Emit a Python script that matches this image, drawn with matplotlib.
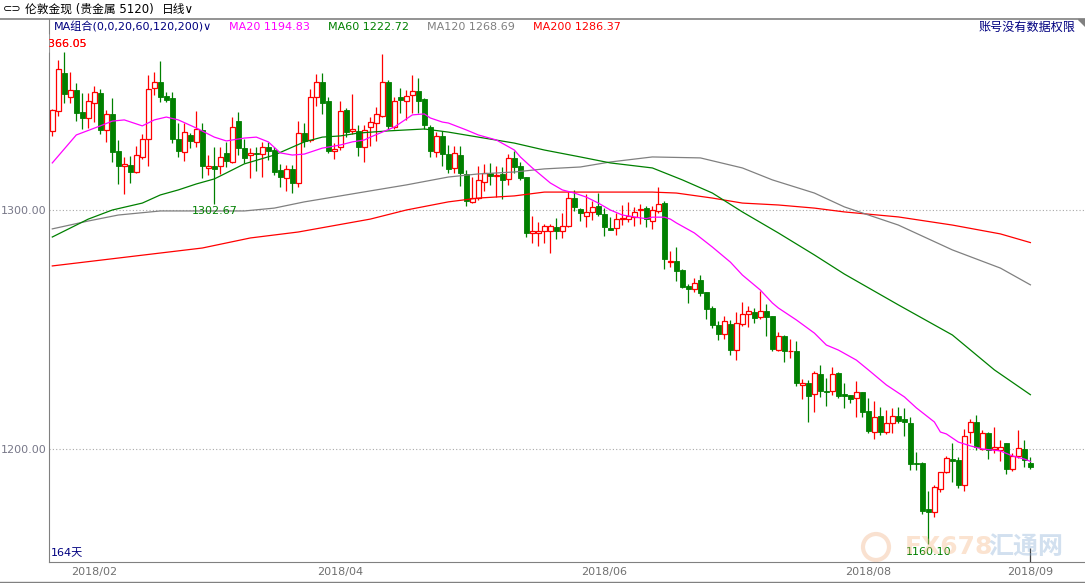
import matplotlib
matplotlib.use("Agg")
import matplotlib.pyplot as plt
from matplotlib.lines import Line2D
from matplotlib.patches import Polygon, Circle, Rectangle
from matplotlib.transforms import IdentityTransform
import numpy as np

plt.rcParams["font.family"] = ["DejaVu Sans", "Noto Sans CJK SC"]

# daily candles, 164 days
opens = [1333.1, 1341.6, 1357.3, 1347.4, 1350.2, 1341.2, 1338.6, 1344.6, 1348.8, 1333.3,
         1340.2, 1324.7, 1318.3, 1318.7, 1316.0, 1322.3, 1329.6, 1350.9, 1353.4, 1347.7,
         1346.7, 1329.6, 1324.4, 1331.3, 1328.6, 1333.5, 1317.7, 1318.4, 1318.4, 1323.7,
         1320.0, 1337.4, 1325.8, 1322.9, 1323.7, 1323.3, 1326.4, 1325.1, 1316.7, 1313.3,
         1317.2, 1311.2, 1332.1, 1329.3, 1347.4, 1353.4, 1345.6, 1324.8, 1326.2, 1341.9,
         1333.2, 1333.2, 1326.5, 1334.9, 1336.6, 1339.5, 1353.4, 1334.9, 1347.2, 1345.8,
         1348.1, 1349.8, 1346.5, 1334.9, 1324.4, 1331.1, 1323.4, 1317.4, 1323.0, 1314.9,
         1303.5, 1304.9, 1311.9, 1315.6, 1314.2, 1315.1, 1312.8, 1321.6, 1318.4, 1313.7,
         1290.2, 1290.2, 1291.1, 1291.1, 1292.8, 1291.2, 1293.4, 1304.9, 1300.4, 1297.6,
         1299.0, 1301.7, 1298.3, 1292.5, 1292.3, 1296.4, 1296.4, 1297.2, 1300.0, 1300.7,
         1295.5, 1299.7, 1303.1, 1278.1, 1278.8, 1274.9, 1268.2, 1266.8, 1270.7, 1265.5,
         1258.9, 1251.9, 1248.0, 1252.3, 1241.4, 1252.2, 1256.6, 1257.2, 1255.1, 1257.7,
         1255.6, 1241.4, 1247.3, 1240.9, 1241.0, 1226.6, 1227.7, 1222.9, 1231.4, 1224.4,
         1224.4, 1231.8, 1222.9, 1222.6, 1221.2, 1223.7, 1215.9, 1207.2, 1213.8, 1207.0,
         1210.7, 1213.9, 1212.5, 1210.7, 1194.0, 1194.0, 1174.9, 1173.5, 1183.1, 1190.2,
         1195.8, 1195.4, 1184.9, 1207.2, 1211.1, 1200.0, 1206.5, 1200.0, 1199.6, 1202.4,
         1191.6, 1197.1, 1200.0, 1194.0]
highs = [1342.3, 1362.8, 1366.05, 1357.6, 1353.3, 1348.8, 1348.8, 1351.9, 1350.5, 1341.9,
         1346.7, 1329.3, 1322.3, 1322.7, 1326.8, 1332.0, 1356.5, 1357.6, 1362.4, 1349.2,
         1349.2, 1336.3, 1336.6, 1332.1, 1341.6, 1336.3, 1323.0, 1326.2, 1326.2, 1328.6,
         1338.8, 1341.2, 1329.7, 1325.8, 1326.2, 1328.6, 1328.6, 1326.2, 1319.3, 1318.8,
         1318.8, 1337.3, 1336.3, 1350.6, 1356.8, 1357.2, 1347.4, 1327.9, 1345.6, 1342.7,
         1348.6, 1335.6, 1335.6, 1338.8, 1343.3, 1365.4, 1354.4, 1347.4, 1350.9, 1350.2,
         1356.5, 1355.1, 1346.7, 1335.6, 1332.8, 1333.1, 1327.2, 1326.9, 1326.9, 1316.7,
         1314.0, 1318.4, 1319.3, 1319.5, 1318.6, 1317.9, 1323.4, 1324.8, 1320.0, 1314.0,
         1297.5, 1295.1, 1294.1, 1294.1, 1296.5, 1298.6, 1307.7, 1308.4, 1300.8, 1306.6,
         1303.9, 1307.3, 1300.7, 1296.9, 1298.6, 1302.1, 1303.5, 1301.4, 1302.5, 1301.7,
         1301.7, 1309.8, 1303.8, 1282.8, 1284.7, 1275.2, 1269.0, 1271.4, 1272.8, 1265.8,
         1259.8, 1253.7, 1255.6, 1254.0, 1257.5, 1261.4, 1259.8, 1258.9, 1266.2, 1260.7,
         1255.6, 1248.8, 1247.7, 1246.0, 1245.2, 1229.3, 1228.9, 1232.6, 1235.1, 1229.6,
         1234.2, 1232.3, 1227.5, 1222.6, 1228.4, 1223.7, 1221.2, 1220.1, 1217.7, 1216.3,
         1217.0, 1217.7, 1217.0, 1213.5, 1198.9, 1194.4, 1182.5, 1184.9, 1190.5, 1197.0,
         1202.4, 1196.5, 1208.2, 1212.4, 1214.2, 1207.9, 1207.2, 1209.1, 1203.7, 1202.6,
         1198.2, 1207.9, 1203.7, 1196.5]
lows = [1331.1, 1339.3, 1344.6, 1344.6, 1337.4, 1333.8, 1334.2, 1337.0, 1331.8, 1328.6,
        1320.0, 1311.0, 1306.8, 1311.2, 1315.6, 1321.3, 1318.6, 1348.1, 1345.3, 1345.3,
        1327.9, 1322.0, 1320.5, 1326.0, 1326.5, 1313.3, 1314.7, 1302.67, 1314.9, 1317.9,
        1319.8, 1323.0, 1319.8, 1313.3, 1316.5, 1314.0, 1320.9, 1314.7, 1309.8, 1308.0,
        1307.3, 1309.8, 1326.5, 1328.6, 1343.7, 1340.2, 1323.7, 1321.3, 1325.1, 1330.4,
        1331.7, 1322.6, 1320.2, 1326.8, 1328.9, 1339.1, 1333.8, 1333.8, 1340.5, 1337.7,
        1340.7, 1340.7, 1333.8, 1322.0, 1322.0, 1318.4, 1315.4, 1315.4, 1310.2, 1301.7,
        1303.0, 1304.2, 1308.0, 1310.5, 1305.6, 1304.5, 1310.5, 1315.4, 1312.6, 1288.8,
        1286.1, 1285.1, 1286.1, 1282.1, 1287.7, 1288.1, 1292.8, 1299.7, 1295.5, 1293.0,
        1295.8, 1297.5, 1289.1, 1291.6, 1289.5, 1293.7, 1294.8, 1293.3, 1294.1, 1293.0,
        1292.2, 1298.6, 1275.3, 1276.0, 1270.3, 1267.5, 1261.2, 1265.8, 1264.0, 1254.5,
        1250.8, 1245.6, 1246.2, 1239.3, 1237.2, 1251.6, 1251.2, 1252.9, 1254.4, 1247.4,
        1241.1, 1241.0, 1236.5, 1238.2, 1226.4, 1220.9, 1211.4, 1215.6, 1221.9, 1218.0,
        1222.6, 1221.5, 1217.3, 1219.1, 1213.5, 1213.5, 1206.8, 1204.3, 1205.8, 1206.1,
        1206.5, 1211.0, 1205.6, 1191.2, 1191.2, 1172.8, 1160.1, 1171.7, 1182.1, 1190.1,
        1186.1, 1183.5, 1182.5, 1202.6, 1199.6, 1199.6, 1195.8, 1198.4, 1195.1, 1189.4,
        1190.9, 1196.2, 1192.6, 1191.5]
closes = [1341.9, 1358.9, 1348.7, 1350.2, 1340.7, 1338.6, 1345.6, 1349.2, 1333.5, 1340.2,
          1324.4, 1318.6, 1319.1, 1316.0, 1322.9, 1329.7, 1350.5, 1353.4, 1347.4, 1346.0,
          1329.6, 1324.8, 1332.5, 1329.0, 1333.8, 1318.6, 1318.4, 1317.3, 1322.3, 1320.7,
          1334.9, 1325.8, 1321.9, 1323.7, 1323.3, 1326.5, 1324.8, 1316.0, 1314.0, 1317.2,
          1311.2, 1332.1, 1328.9, 1347.4, 1353.7, 1344.6, 1324.8, 1325.5, 1341.6, 1332.8,
          1333.8, 1326.5, 1333.5, 1336.7, 1340.0, 1353.4, 1335.2, 1345.6, 1346.0, 1347.7,
          1349.8, 1345.6, 1335.6, 1324.8, 1331.0, 1323.4, 1317.0, 1323.7, 1315.6, 1303.9,
          1304.9, 1312.6, 1315.4, 1314.2, 1314.7, 1312.6, 1321.6, 1318.1, 1313.5, 1290.5,
          1291.1, 1291.1, 1293.2, 1293.2, 1291.4, 1293.4, 1304.9, 1301.4, 1298.9, 1299.0,
          1301.1, 1298.3, 1293.0, 1291.8, 1296.1, 1296.7, 1297.5, 1299.0, 1300.4, 1296.3,
          1299.9, 1302.4, 1279.5, 1278.5, 1274.6, 1267.9, 1266.8, 1269.3, 1265.4, 1258.7,
          1251.9, 1248.1, 1253.4, 1241.4, 1252.6, 1256.3, 1257.6, 1254.9, 1257.7, 1255.4,
          1241.8, 1247.3, 1241.0, 1241.1, 1227.5, 1227.6, 1222.3, 1231.7, 1224.4, 1223.7,
          1231.2, 1222.2, 1222.3, 1221.0, 1223.7, 1215.6, 1207.5, 1213.2, 1207.2, 1210.7,
          1213.8, 1211.8, 1211.1, 1193.6, 1193.6, 1174.2, 1173.8, 1184.2, 1190.2, 1196.1,
          1195.1, 1184.9, 1205.6, 1211.1, 1200.7, 1206.8, 1199.6, 1200.7, 1201.0, 1191.6,
          1197.2, 1200.5, 1195.4, 1192.6]

# moving averages, read at a set of day indices
ma20_idx = [0, 4, 8, 10, 12, 15, 17, 19, 21, 24, 27, 29, 32, 34, 36, 38, 40, 42, 45, 48,
            50, 52, 53, 55, 57, 59, 60, 62, 63, 65, 66, 69, 71, 74, 77, 78, 80, 82, 83, 85,
            87, 89, 91, 93, 95, 98, 99, 100, 102, 103, 104, 107, 110, 113, 115, 118, 120, 121,
            124, 127, 129, 131, 134, 136, 138, 139, 142, 144, 147, 148, 149, 151, 153, 155,
            158, 160, 162, 163]
ma20_val = [1319.7, 1331.4, 1335.2, 1337.2, 1337.7, 1335.2, 1337.7, 1338.9, 1337.7, 1334.3,
            1330.5, 1328.9, 1330.1, 1330.5, 1328.5, 1323.9, 1323.0, 1323.4, 1325.9, 1327.2,
            1328.5, 1329.3, 1330.5, 1332.6, 1334.7, 1338.1, 1339.8, 1340.2, 1338.5, 1336.8,
            1336.4, 1333.5, 1331.4, 1329.3, 1325.1, 1322.2, 1317.6, 1313.4, 1311.3, 1308.4,
            1307.1, 1305.4, 1302.9, 1300.0, 1297.9, 1296.7, 1296.4, 1297.0, 1297.0, 1296.2,
            1294.6, 1290.4, 1284.5, 1278.2, 1272.8, 1266.5, 1261.1, 1259.0, 1254.0, 1248.5,
            1243.5, 1241.4, 1237.2, 1233.1, 1228.9, 1226.8, 1221.8, 1217.2, 1211.3, 1207.1,
            1206.3, 1202.9, 1201.3, 1200.0, 1199.2, 1197.1, 1195.8, 1194.83]

ma60_idx = [0, 6, 10, 15, 18, 21, 24, 27, 29, 32, 37, 42, 45, 48, 51, 56, 62, 66, 71, 77,
            82, 88, 93, 100, 105, 110, 115, 121, 127, 132, 141, 150, 157, 163]
ma60_val = [1288.7, 1296.2, 1300.0, 1302.9, 1306.3, 1308.4, 1310.9, 1313.0, 1315.5, 1319.3,
            1323.0, 1328.5, 1330.5, 1331.0, 1332.2, 1333.1, 1333.9, 1332.6, 1330.5, 1328.0,
            1325.1, 1322.2, 1319.7, 1317.6, 1312.6, 1307.1, 1299.2, 1290.4, 1281.2, 1273.2,
            1260.3, 1247.7, 1233.1, 1222.72]

ma120_idx = [0, 6, 11, 18, 32, 37, 42, 48, 53, 59, 66, 71, 77, 82, 88, 93, 100, 108, 115,
             120, 127, 132, 141, 150, 158, 163]
ma120_val = [1292.1, 1295.4, 1297.9, 1299.6, 1299.6, 1300.8, 1303.4, 1305.9, 1308.0, 1310.5,
             1313.8, 1315.1, 1315.9, 1317.2, 1318.0, 1320.1, 1322.2, 1321.8, 1317.6, 1312.6,
             1307.1, 1301.3, 1293.7, 1283.3, 1275.7, 1268.69]

ma200_idx = [0, 11, 25, 33, 41, 53, 59, 66, 71, 77, 82, 88, 93, 100, 104, 110, 115, 121,
             127, 132, 141, 150, 158, 163]
ma200_val = [1276.6, 1279.9, 1284.1, 1288.3, 1290.8, 1296.2, 1300.0, 1303.4, 1305.0, 1305.9,
             1307.5, 1307.5, 1307.5, 1307.5, 1307.1, 1305.0, 1302.9, 1302.1, 1300.8, 1299.2,
             1297.1, 1293.7, 1290.0, 1286.37]

month_idx = [7, 48, 92, 136, 163]
month_labels = ["2018/02", "2018/04", "2018/06", "2018/08", "2018/09"]

RED = "#FF0000"
GREEN = "#008000"
MAGENTA = "#FF00FF"
GRAY = "#808080"
NAVY = "#000080"

W, H = 1085, 583


def fx(x):
    return x / W


def fy(y):
    return 1 - y / H


fig = plt.figure(figsize=(W / 100, H / 100), dpi=100)
ax = fig.add_axes([fx(49), fy(562), fx(1085 - 49), 543 / H])
ax.set_xlim(-0.55, 172.1)
ax.set_ylim(1152.72, 1379.92)

o = np.array(opens)
h = np.array(highs)
l = np.array(lows)
c = np.array(closes)
idx = np.arange(len(c))
up = c >= o
dn = ~up

for lvl in (1200, 1300):
    ax.axhline(lvl, color="#A8A8A8", lw=0.8, ls=(0, (1, 2)), zorder=1)

# wicks
ax.vlines(idx[dn], l[dn], h[dn], color=GREEN, lw=0.9, zorder=2)
ax.vlines(idx[up], l[up], o[up], color=RED, lw=0.9, zorder=2)
ax.vlines(idx[up], c[up], h[up], color=RED, lw=0.9, zorder=2)

# bodies
bw = 0.78
ax.bar(idx[dn], np.maximum(o[dn] - c[dn], 0.3), bottom=c[dn], width=bw,
       color=GREEN, edgecolor=GREEN, lw=0.6, zorder=2)
ax.bar(idx[up], np.maximum(c[up] - o[up], 0.3), bottom=o[up], width=bw,
       facecolor="white", edgecolor=RED, lw=0.9, zorder=2)

# moving averages
ax.plot(ma200_idx, ma200_val, color=RED, lw=0.9, zorder=3)
ax.plot(ma120_idx, ma120_val, color=GRAY, lw=0.9, zorder=3)
ax.plot(ma60_idx, ma60_val, color=GREEN, lw=0.9, zorder=3)
ax.plot(ma20_idx, ma20_val, color=MAGENTA, lw=0.9, zorder=3)

# high / low labels
imax1 = 2
imax2 = int(np.argmax(h))
ilow1 = 27
ilow2 = int(np.argmin(l))
ax.text(imax1, h[imax1] + 1.3, f"{h[imax1]:.2f}", color=RED, fontsize=8,
        ha="center", va="bottom")
ax.text(imax2, h[imax2] + 1.3, f"{h[imax2]:.2f}", color=RED, fontsize=8,
        ha="center", va="bottom")
ax.text(ilow1, l[ilow1] - 1.2, f"{l[ilow1]:.2f}", color=GREEN, fontsize=8,
        ha="center", va="top")
ax.text(ilow2, l[ilow2] - 1.2, f"{l[ilow2]:.2f}", color=GREEN, fontsize=8,
        ha="center", va="top")
# the first high label is cut by the price axis in the original
fig.add_artist(Rectangle((fx(30), fy(52)), fx(18.4), 18 / H, color="white", zorder=5))

# axes styling
for side in ("top", "right"):
    ax.spines[side].set_visible(False)
ax.spines["left"].set_color(GRAY)
ax.spines["bottom"].set_color(GRAY)
ax.set_yticks([1200, 1300])
ax.set_yticklabels(["1200.00", "1300.00"])
ax.tick_params(axis="y", length=0, pad=2, labelsize=8, labelcolor="#777788")
ax.set_xticks(month_idx)
ax.set_xticklabels(month_labels)
ax.tick_params(axis="x", length=0, pad=3.5, labelsize=8, labelcolor="#707070")

# frame lines of the window
fig.add_artist(Line2D([0, 1], [fy(18.5), fy(18.5)], color=GRAY, lw=1.2))
fig.add_artist(Line2D([0, 1], [fy(582), fy(582)], color=GRAY, lw=1.0))
fig.add_artist(Polygon([[fx(1078), fy(19)], [fx(1085), fy(19)], [fx(1085), fy(26)]],
                       closed=True, color=GRAY))
ax.vlines(163, 1152.72, 1158.5, color="#404040", lw=0.9, zorder=4)

# header
fig.text(fx(3), fy(9), "⊂⊃", fontsize=8, color="black", va="center")
fig.text(fx(25), fy(9), "伦敦金现 (贵金属 5120)", fontsize=8.5, color="black", va="center")
fig.text(fx(162), fy(9), "日线∨", fontsize=8.5, color="black", va="center")

fig.text(fx(54), fy(27), "MA组合(0,0,20,60,120,200)∨", fontsize=8, color=NAVY, va="center")
fig.text(fx(229), fy(27), "MA20 1194.83", fontsize=8, color=MAGENTA, va="center")
fig.text(fx(328), fy(27), "MA60 1222.72", fontsize=8, color=GREEN, va="center")
fig.text(fx(427), fy(27), "MA120 1268.69", fontsize=8, color=GRAY, va="center")
fig.text(fx(533), fy(27), "MA200 1286.37", fontsize=8, color=RED, va="center")
fig.text(fx(1076), fy(27), "账号没有数据权限", fontsize=8.7, color=NAVY, va="center", ha="right")
fig.text(fx(51), fy(553), "164天", fontsize=8, color=NAVY, va="center")

# faint watermark
fig.add_artist(Circle((876, H - 547), 13, transform=IdentityTransform(),
                      fill=False, ec="#F2B48A", lw=3, alpha=0.4))
fig.text(fx(905), fy(547), "FX678", fontsize=18, fontweight="bold", color="#F5B98A",
         alpha=0.4, va="center")
fig.text(fx(988), fy(547), "汇通网", fontsize=18, fontweight="bold", color="#8FB3D9",
         alpha=0.4, va="center", family=["Noto Sans CJK SC"])

fig.savefig("out.png", dpi=100)
